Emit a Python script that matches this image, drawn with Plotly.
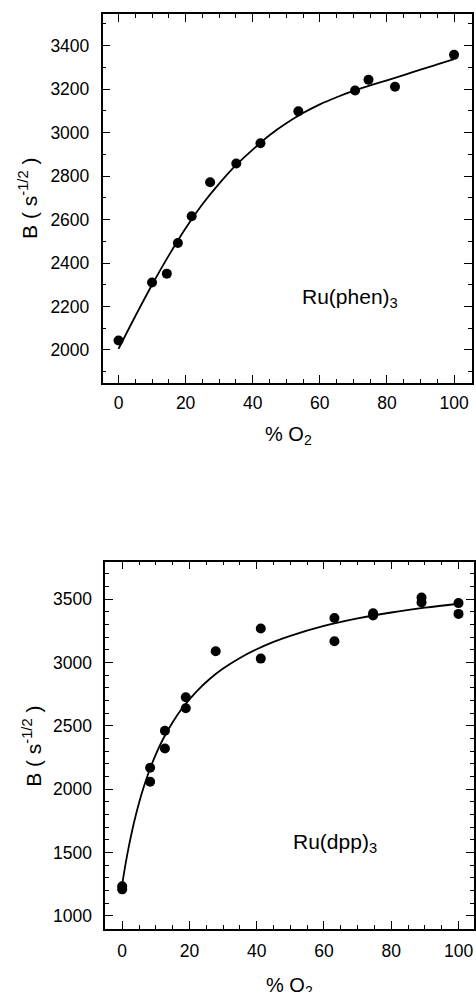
import plotly.graph_objects as go

# --- Ru(phen)3 : measured points and fitted curve ---
phen_o2 = [0, 10, 14.4, 17.7, 21.8, 27.3, 35.1, 42.3, 53.6, 70.5, 74.5, 82.4, 100]
phen_b = [2043, 2310, 2351, 2492, 2615, 2772, 2858, 2951, 3098, 3194, 3243, 3211, 3358]
phen_fit_o2 = [0, 5, 10, 15, 20, 25, 30, 35, 40, 45, 50, 55, 60, 65, 70, 75, 80, 85, 90, 95, 100]
phen_fit_b = [2005, 2155, 2300, 2435, 2560, 2670, 2765, 2850, 2922, 2988, 3043, 3090, 3130,
              3163, 3192, 3217, 3241, 3265, 3290, 3314, 3338]

# --- Ru(dpp)3 : measured points and fitted curve ---
dpp_o2 = [0, 0, 8.3, 8.3, 12.7, 12.7, 18.9, 18.9, 27.8, 41.2, 41.2, 63.1, 63.1, 74.6, 74.6,
          89.0, 89.0, 100, 100]
dpp_b = [1235, 1210, 2170, 2060, 2462, 2322, 2727, 2640, 3090, 3269, 3032, 3353, 3169, 3390,
         3372, 3515, 3475, 3470, 3385]
dpp_fit_o2 = [0, 1, 2, 3, 4, 6, 8, 10, 12, 15, 18, 22, 26, 30, 35, 40, 45, 50, 60, 70, 80, 90, 100]
dpp_fit_b = [1250, 1411, 1553, 1679, 1791, 1984, 2142, 2275, 2389, 2530, 2646, 2770, 2871, 2953,
             3037, 3106, 3164, 3212, 3290, 3349, 3396, 3434, 3465]

x_title = "% O<sub>2</sub>"
y_title = "B ( s<sup>-1/2</sup> )"
phen_label = "Ru(phen)<sub>3</sub>"
dpp_label = "Ru(dpp)<sub>3</sub>"

FONT = "Liberation Sans, Arial, Helvetica, sans-serif"
W, H = 476, 992

fig = go.Figure()

# top panel
fig.add_trace(go.Scatter(x=phen_fit_o2, y=phen_fit_b, mode="lines",
                         line=dict(color="black", width=1.8, shape="spline"),
                         xaxis="x", yaxis="y", showlegend=False, hoverinfo="skip"))
fig.add_trace(go.Scatter(x=phen_o2, y=phen_b, mode="markers",
                         marker=dict(color="black", size=10, line=dict(width=0)),
                         xaxis="x", yaxis="y", showlegend=False))

# bottom panel
fig.add_trace(go.Scatter(x=dpp_fit_o2, y=dpp_fit_b, mode="lines",
                         line=dict(color="black", width=1.8, shape="spline"),
                         xaxis="x2", yaxis="y2", showlegend=False, hoverinfo="skip"))
fig.add_trace(go.Scatter(x=dpp_o2, y=dpp_b, mode="markers",
                         marker=dict(color="black", size=10, line=dict(width=0)),
                         xaxis="x2", yaxis="y2", showlegend=False))


def axis_style(dtick, minor_dtick, standoff):
    return dict(
        showline=True, linecolor="black", linewidth=1.5, mirror="ticks",
        ticks="inside", ticklen=8, tickwidth=1.4, tickcolor="black",
        dtick=dtick, tick0=0,
        minor=dict(ticks="inside", ticklen=4, tickwidth=1.2, tickcolor="black",
                   dtick=minor_dtick, tick0=0),
        showgrid=False, zeroline=False,
        tickfont=dict(family=FONT, size=17.5, color="black"),
        ticklabelstandoff=standoff,
        fixedrange=True,
    )


def px_x(px):
    return px / W


def px_y(py):
    return 1 - py / H


fig.update_layout(
    width=W, height=H,
    margin=dict(l=0, r=0, t=0, b=0),
    paper_bgcolor="white", plot_bgcolor="white",
    xaxis=dict(domain=[px_x(103), px_x(473.5)], range=[-4.75, 105.2], anchor="y",
               **axis_style(20, 5, 4)),
    yaxis=dict(domain=[px_y(382.5), px_y(14)], range=[1850, 3546], anchor="x",
               **axis_style(200, 100, 8)),
    xaxis2=dict(domain=[px_x(105.7), 1.0], range=[-5.04, 104.6], anchor="y2",
                **axis_style(20, 5, 5)),
    yaxis2=dict(domain=[px_y(929), px_y(561.7)], range=[897, 3797], anchor="x2",
                **axis_style(500, 100, 8)),
)

annotations = [
    # panel labels
    dict(text=phen_label, x=54.0, y=2240, xref="x", yref="y", xanchor="left",
         yanchor="middle", showarrow=False, font=dict(family=FONT, size=21, color="black")),
    dict(text=dpp_label, x=50.2, y=1576, xref="x2", yref="y2", xanchor="left",
         yanchor="middle", showarrow=False, font=dict(family=FONT, size=21, color="black")),
    # axis titles
    dict(text=x_title, x=px_x(290), y=px_y(436), xref="paper", yref="paper",
         xanchor="center", yanchor="middle", showarrow=False,
         font=dict(family=FONT, size=20, color="black")),
    dict(text=x_title, x=px_x(291), y=px_y(986), xref="paper", yref="paper",
         xanchor="center", yanchor="middle", showarrow=False,
         font=dict(family=FONT, size=20, color="black")),
    dict(text=y_title, x=px_x(28), y=px_y(198), xref="paper", yref="paper",
         xanchor="center", yanchor="middle", textangle=-90, showarrow=False,
         font=dict(family=FONT, size=21, color="black")),
    dict(text=y_title, x=px_x(32), y=px_y(746), xref="paper", yref="paper",
         xanchor="center", yanchor="middle", textangle=-90, showarrow=False,
         font=dict(family=FONT, size=21, color="black")),
]
fig.update_layout(annotations=annotations)

fig.write_html("out.html")
